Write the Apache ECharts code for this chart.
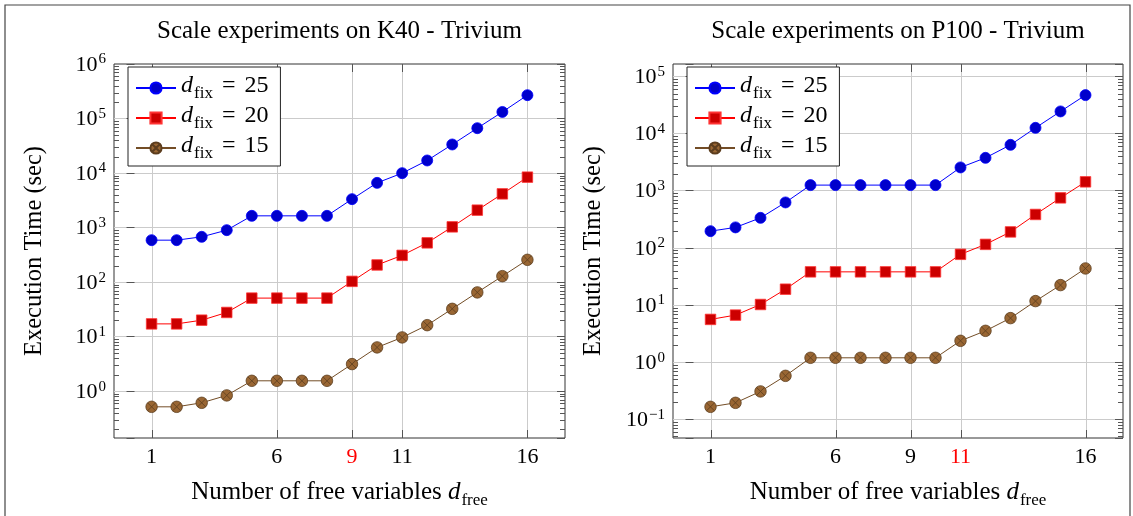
<!DOCTYPE html>
<html>
<head>
<meta charset="utf-8">
<script src="https://cdn.jsdelivr.net/npm/echarts@6/dist/echarts.min.js"></script>
<style>
  html, body { margin: 0; padding: 0; background: #fff; }
  #chart { width: 1133px; height: 516px; }
</style>
</head>
<body>
<div id="chart"></div>
<script>
// number of free variables (x axis)
const dFree = [1, 2, 3, 4, 5, 6, 7, 8, 9, 10, 11, 12, 13, 14, 15, 16];
const xTicks = [1, 6, 9, 11, 16];
const fixValues = ['25', '20', '15'];

// K40 timings (sec)
const k40Fix25 = [587, 587, 676, 896, 1640, 1640, 1640, 1640, 3320, 6600, 9950, 17000, 33400, 66500, 132000, 268000];
const k40Fix20 = [17.1, 17.1, 20.0, 27.7, 50.8, 50.8, 50.8, 50.8, 103, 206, 309, 524, 1030, 2085, 4150, 8400];
const k40Fix15 = [0.515, 0.515, 0.61, 0.834, 1.545, 1.545, 1.545, 1.545, 3.13, 6.33, 9.66, 16.2, 32.3, 64.6, 128.5, 256];

// P100 timings (sec)
const p100Fix25 = [196, 228, 335, 623, 1253, 1253, 1253, 1253, 1253, 1253, 2555, 3760, 6350, 12600, 24400, 47100];
const p100Fix20 = [5.59, 6.65, 10.2, 18.9, 38, 38, 38, 38, 38, 38, 77, 115, 190, 384, 750, 1430];
const p100Fix15 = [0.165, 0.194, 0.307, 0.576, 1.19, 1.19, 1.19, 1.19, 1.19, 1.19, 2.36, 3.53, 5.89, 11.7, 22.3, 43.6];

// axis ranges
const xRange = [-0.5, 17.5];
const k40YRange = [0.138, 1e6];
const p100YRange = [0.047, 1.65e5];

const serif = "'Liberation Serif', 'Times New Roman', serif";
const gridColor = '#cbcbcb';
const tickColor = '#555';
const frameColor = '#333';

const chart = echarts.init(document.getElementById('chart'));

// minor ticks 2..9 of every decade inside the range
function minorTicks(range) {
    const out = [];
    const e0 = Math.floor(Math.log10(range[0]));
    const e1 = Math.ceil(Math.log10(range[1]));
    for (let e = e0; e <= e1; e++) {
        for (let m = 2; m <= 9; m++) {
            const v = m * Math.pow(10, e);
            if (v > range[0] && v < range[1]) out.push(v);
        }
    }
    return out;
}

function pow10Label(value) {
    const e = Math.round(Math.log10(value));
    if (Math.abs(value - Math.pow(10, e)) > 1e-6 * Math.pow(10, e)) return '';
    return '{b|10}{s|' + (e < 0 ? '\u2212' + (-e) : e) + '}';
}

const markers = [
    { symbol: 'circle', size: 11, line: '#0000ff', fill: '#0000cc', border: '#0000ff' },
    { symbol: 'rect', size: 10.5, line: '#ff0000', fill: '#cc0000', border: '#ff3333' },
    { symbol: 'path://M0,-10A10,10 0 1,1 0,10A10,10 0 1,1 0,-10ZM-7.07,-7.07L7.07,7.07M7.07,-7.07L-7.07,7.07', size: 11.5, line: '#734d26', fill: '#996633', border: '#5c3d1e' }
];

const grids = [
    { left: 114, top: 64, width: 451, height: 374 },
    { left: 673, top: 64, width: 450, height: 374 }
];
const panels = [
    { title: 'Scale experiments on K40 - Trivium', yRange: k40YRange, red: 9, values: [k40Fix25, k40Fix20, k40Fix15], legendLeft: 128 },
    { title: 'Scale experiments on P100 - Trivium', yRange: p100YRange, red: 11, values: [p100Fix25, p100Fix20, p100Fix15], legendLeft: 687 }
];

const seriesName = (i) => 'd_fix = ' + fixValues[i];

const xAxes = [], yAxes = [], series = [], titles = [], legends = [];
panels.forEach((p, k) => {
    const g = grids[k];
    titles.push({
        text: p.title, left: g.left + g.width / 2, top: 19, textAlign: 'center', padding: 0,
        textStyle: { fontFamily: serif, fontSize: 25, fontWeight: 'normal', color: '#000' }
    });
    xAxes.push({
        type: 'value', gridIndex: k, min: xRange[0], max: xRange[1], interval: 0.5,
        name: '{n|Number of free variables }{d|d}{s|free}',
        nameLocation: 'middle', nameGap: 42,
        nameTextStyle: {
            rich: {
                n: { fontFamily: serif, fontSize: 25, color: '#000', verticalAlign: 'bottom', padding: [0, 0, 4, 0] },
                d: { fontFamily: serif, fontSize: 25, fontStyle: 'italic', color: '#000', verticalAlign: 'bottom', padding: [0, 1, 4, 0] },
                s: { fontFamily: serif, fontSize: 17, color: '#000', verticalAlign: 'bottom' }
            }
        },
        axisLine: { show: false },
        axisTick: { show: false },
        splitLine: { show: false },
        axisLabel: {
            margin: 8,
            formatter: (v) => {
                if (xTicks.indexOf(v) < 0) return '';
                return (v === p.red ? '{r|' : '{b|') + v + '}';
            },
            rich: {
                b: { fontFamily: serif, fontSize: 22, color: '#000' },
                r: { fontFamily: serif, fontSize: 22, color: '#ff0000' }
            }
        }
    });
    const yBase = {
        type: 'log', gridIndex: k, min: p.yRange[0], max: p.yRange[1], logBase: 10
    };
    yAxes.push(Object.assign({}, yBase, {
        position: 'left',
        name: 'Execution Time (sec)', nameLocation: 'middle', nameGap: 67,
        nameTextStyle: { fontFamily: serif, fontSize: 24.5, color: '#000' },
        axisLine: { show: false },
        axisTick: { show: true, inside: true, length: 8, lineStyle: { color: tickColor } },
        splitLine: { show: true, showMinLine: false, showMaxLine: false, lineStyle: { color: gridColor, width: 1 } },
        axisLabel: {
            margin: 8, formatter: pow10Label,
            rich: {
                b: { fontFamily: serif, fontSize: 22, color: '#000', verticalAlign: 'bottom' },
                s: { fontFamily: serif, fontSize: 15, color: '#000', verticalAlign: 'bottom', padding: [0, 0, 9, 1] }
            }
        }
    }));
    yAxes.push(Object.assign({}, yBase, {
        position: 'right',
        axisLine: { show: false },
        axisTick: { show: true, inside: true, length: 8, lineStyle: { color: tickColor } },
        splitLine: { show: false },
        axisLabel: { show: false }
    }));

    // vertical grid lines and x ticks (bottom and top)
    series.push({
        type: 'custom', name: 'xgrid' + k, xAxisIndex: k, yAxisIndex: 2 * k, z: 1, silent: true,
        data: xTicks.map((x) => [x, p.yRange[0]]),
        renderItem: (params, api) => {
            const cs = params.coordSys;
            const x = Math.round(api.coord([api.value(0), api.value(1)])[0]) + 0.5;
            const b = cs.y + cs.height;
            return {
                type: 'group', children: [
                    { type: 'line', shape: { x1: x, y1: cs.y, x2: x, y2: b }, style: { stroke: gridColor, lineWidth: 1 } },
                    { type: 'line', shape: { x1: x, y1: b, x2: x, y2: b - 8 }, style: { stroke: tickColor, lineWidth: 1 } },
                    { type: 'line', shape: { x1: x, y1: cs.y, x2: x, y2: cs.y + 8 }, style: { stroke: tickColor, lineWidth: 1 } }
                ]
            };
        }
    });
    // minor y ticks on both sides
    series.push({
        type: 'custom', name: 'yminor' + k, xAxisIndex: k, yAxisIndex: 2 * k, z: 1, silent: true,
        data: minorTicks(p.yRange).map((v) => [xRange[0], v]),
        renderItem: (params, api) => {
            const cs = params.coordSys;
            const y = Math.round(api.coord([api.value(0), api.value(1)])[1]) + 0.5;
            const r = cs.x + cs.width;
            return {
                type: 'group', children: [
                    { type: 'line', shape: { x1: cs.x, y1: y, x2: cs.x + 5, y2: y }, style: { stroke: tickColor, lineWidth: 1 } },
                    { type: 'line', shape: { x1: r, y1: y, x2: r - 5, y2: y }, style: { stroke: tickColor, lineWidth: 1 } }
                ]
            };
        }
    });

    p.values.forEach((vals, i) => {
        const m = markers[i];
        series.push({
            type: 'line', name: seriesName(i), xAxisIndex: k, yAxisIndex: 2 * k, z: 3,
            data: dFree.map((x, j) => [x, vals[j]]),
            symbol: m.symbol, symbolSize: m.size, showAllSymbol: true,
            lineStyle: { color: m.line, width: 1 },
            itemStyle: { color: m.fill, borderColor: m.border, borderWidth: 0.8 },
            emphasis: { disabled: true },
            animation: false
        });
    });

    legends.push({
        left: p.legendLeft, top: 67, orient: 'vertical',
        data: fixValues.map((_, i) => seriesName(i)),
        padding: [7, 12, 4, 7], itemWidth: 40, itemHeight: 14, itemGap: 2,
        backgroundColor: '#fff', borderColor: '#222', borderWidth: 1, borderRadius: 0,
        selectedMode: false,
        formatter: (name) => '{d|d}{s|fix}{e|=}{t|' + name.split('= ')[1] + '}',
        textStyle: {
            rich: {
                d: { fontFamily: serif, fontSize: 24, fontStyle: 'italic', color: '#000', verticalAlign: 'bottom', padding: [0, 1, 4, 0] },
                s: { fontFamily: serif, fontSize: 17, color: '#000', verticalAlign: 'bottom' },
                e: { fontFamily: serif, fontSize: 24, color: '#000', verticalAlign: 'bottom', padding: [0, 9, 4, 9] },
                t: { fontFamily: serif, fontSize: 24, color: '#000', verticalAlign: 'bottom', padding: [0, 0, 4, 0] }
            }
        }
    });
});

const option = {
    backgroundColor: '#fff',
    animation: false,
    title: titles,
    legend: legends,
    grid: grids.map((g) => Object.assign({}, g, { show: true, borderColor: frameColor, borderWidth: 1, backgroundColor: 'transparent', containLabel: false })),
    xAxis: xAxes,
    yAxis: yAxes,
    series: series,
    graphic: [{
        type: 'rect', silent: true, z: 100,
        shape: { x: 5, y: 5, width: 1125, height: 540 },
        style: { fill: 'none', stroke: '#444', lineWidth: 1.2 }
    }]
};
chart.setOption(option);
</script>
</body>
</html>
